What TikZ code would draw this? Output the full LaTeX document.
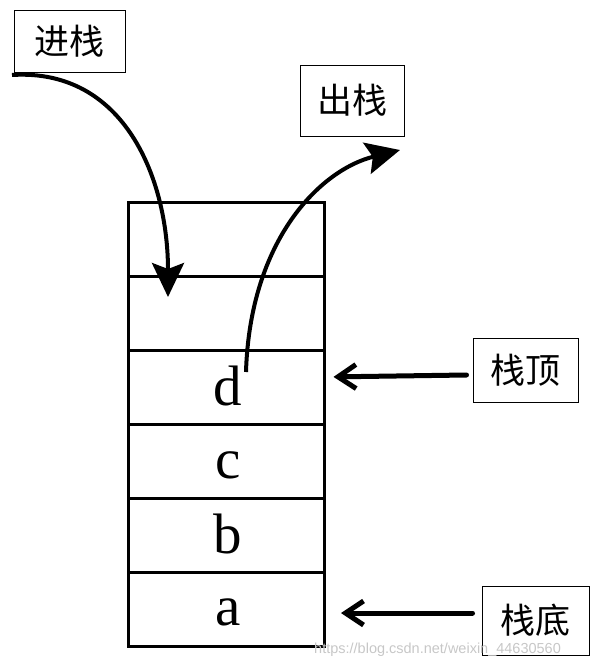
\documentclass[tikz,border=0pt]{standalone}
\usepackage{fontspec}
\setmainfont{Liberation Serif}
\newfontfamily\cjk{Noto Sans CJK SC}
\newfontfamily\wmfont{Liberation Sans}
\usetikzlibrary{arrows.meta}
\begin{document}
\begin{tikzpicture}[x=1pt,y=-1pt,
  cell/.style={draw,line width=3pt,minimum width=196pt,minimum height=74pt,inner sep=0pt},
  letter/.style={anchor=base,inner sep=0pt,font=\fontsize{57}{57}\selectfont},
  lbl/.style={draw,line width=1pt,inner sep=0pt,font=\cjk\fontsize{35}{35}\selectfont},
  bigarrow/.style={line width=4pt,-{Stealth[length=34pt,width=32pt,inset=6pt]}},
  ptr/.style={line width=5pt,line cap=round,-{Straight Barb[length=18pt,width=24pt]}}]
\useasboundingbox (0,0) rectangle (597,664);
% stack cells
\node[cell] (c6) at (226,239) {};
\node[cell] (c5) at (226,313) {};
\node[cell] (c4) at (226,387) {};
\node[cell] (c3) at (226,461) {};
\node[cell] (c2) at (226,535) {};
\node[cell] (c1) at (226,609) {};
\node[letter] (ld) at (228,405) {d};
\node[letter] (lc) at (228,478) {c};
\node[letter] (lb) at (228,553) {b};
\node[letter] (la) at (228,625) {a};
% labels
\node[lbl,minimum width=111pt,minimum height=62pt] (push) at (69.5,41) {进栈};
\node[lbl,minimum width=104pt,minimum height=71pt] (pop) at (352,100.5) {出栈};
\node[lbl,minimum width=105pt,minimum height=64pt] (top) at (525.5,370) {栈顶};
\node[lbl,minimum width=107pt,minimum height=69pt] (bot) at (535.5,620.5) {栈底};
% curved arrows
\coordinate (pushstart) at (12,75);
\coordinate (pushend) at (168,297);
\draw[bigarrow] (pushstart) .. controls (125,68) and (168,180) .. (pushend);
\coordinate (popstart) at (246,372);
\coordinate (popend) at (400,150);
\draw[bigarrow] (popstart) .. controls (250,240) and (320,170) .. (popend);
% pointers
\draw[ptr,shorten >=8pt] (top.west) ++(-6,5) -- (c4.east |- 0,377);
\coordinate (bottip) at (341,613);
\draw[ptr] (bot.west) ++(-9,-7.5) -- (bottip);
% watermark
\node[anchor=base west,text=black!22,font=\wmfont\fontsize{14.5}{14.5}\selectfont,inner sep=0pt] (wm) at (314,653) {https://blog.csdn.net/weixin\_44630560};
\end{tikzpicture}
\end{document}
